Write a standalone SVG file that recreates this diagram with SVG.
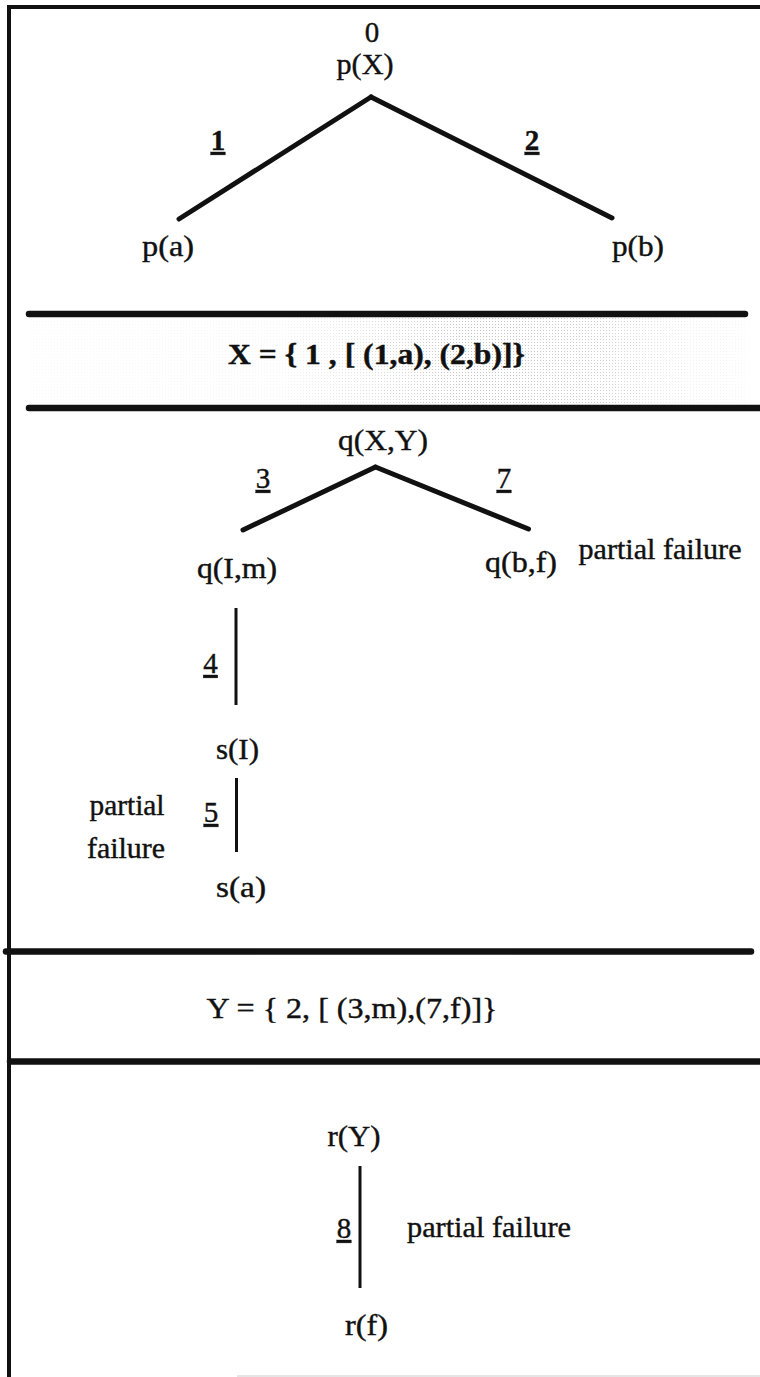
<svg xmlns="http://www.w3.org/2000/svg" width="760" height="1377" viewBox="0 0 760 1377">
  <style>
    text { font-family: "Liberation Serif", "Times New Roman", serif; font-size: 29px; fill: #111; stroke: #111; stroke-width: 0.4; text-anchor: middle; }
    .bold { font-weight: bold; }
    .ul { text-decoration: underline; }
    .frame { stroke: #111; stroke-width: 4; fill: none; }
    .divider { stroke: #111; stroke-width: 6.5; stroke-linecap: round; }
    .branch { stroke: #111; stroke-width: 5; stroke-linecap: round; fill: none; }
    .stem { stroke: #111; stroke-width: 3; fill: none; }
  </style>
  <defs>
    <pattern id="dots" width="3" height="3" patternUnits="userSpaceOnUse">
      <rect x="0" y="0" width="1" height="1" fill="#888"/>
    </pattern>
    <linearGradient id="fade" x1="0" y1="0" x2="1" y2="0">
      <stop offset="0" stop-color="#fff" stop-opacity="0.05"/>
      <stop offset="0.35" stop-color="#fff" stop-opacity="0.08"/>
      <stop offset="0.5" stop-color="#fff" stop-opacity="0.3"/>
      <stop offset="0.62" stop-color="#fff" stop-opacity="0.5"/>
      <stop offset="0.8" stop-color="#fff" stop-opacity="0.4"/>
      <stop offset="0.92" stop-color="#fff" stop-opacity="0.12"/>
      <stop offset="1" stop-color="#fff" stop-opacity="0.08"/>
    </linearGradient>
    <mask id="bandMask">
      <rect x="29" y="318" width="716" height="87" fill="url(#fade)"/>
    </mask>
  </defs>

  <rect width="760" height="1377" fill="#fff"/>

  <g id="frame">
    <line class="frame" x1="9" y1="5" x2="9" y2="1377"/>
    <line class="frame" x1="7" y1="7" x2="760" y2="7"/>
    <line x1="237" y1="1376" x2="760" y2="1376" stroke="#ccc" stroke-width="1"/>
  </g>

  <g id="band-shading">
    <rect x="29" y="318" width="716" height="87" fill="url(#dots)" mask="url(#bandMask)"/>
  </g>

  <g id="dividers">
    <line class="divider" x1="29" y1="314" x2="745" y2="314"/>
    <line class="divider" x1="29" y1="408" x2="760" y2="408"/>
    <line class="divider" x1="6" y1="951.5" x2="751" y2="951.5"/>
    <line class="divider" x1="10" y1="1061.5" x2="760" y2="1061.5"/>
  </g>

  <g id="connectors">
    <line class="branch" x1="371" y1="97" x2="179" y2="219"/>
    <line class="branch" x1="371" y1="97" x2="612" y2="218"/>
    <line class="branch" x1="375.5" y1="467" x2="243" y2="530"/>
    <line class="branch" x1="375.5" y1="467" x2="528.5" y2="529"/>
    <line class="stem" x1="236" y1="608" x2="236" y2="705"/>
    <line class="stem" x1="236.5" y1="778" x2="236.5" y2="852"/>
    <line class="stem" x1="360" y1="1166" x2="360" y2="1288"/>
  </g>

  <g id="edge-labels">
    <text class="bold ul" x="218" y="150">1</text>
    <text class="bold ul" x="532" y="150">2</text>
    <text class="ul" x="263" y="488">3</text>
    <text class="ul" x="504" y="488">7</text>
    <text class="ul" x="210.5" y="673">4</text>
    <text class="ul" x="211" y="822">5</text>
    <text class="ul" x="344" y="1238">8</text>
  </g>

  <g id="node-pX">
    <text x="372" y="42">0</text>
    <text x="365" y="74" textLength="57" lengthAdjust="spacingAndGlyphs">p(X)</text>
  </g>
  <g id="node-pa">
    <text x="168" y="256" textLength="52" lengthAdjust="spacingAndGlyphs">p(a)</text>
  </g>
  <g id="node-pb">
    <text x="638" y="256" textLength="52" lengthAdjust="spacingAndGlyphs">p(b)</text>
  </g>

  <g id="binding-X">
    <text class="bold" x="376.5" y="364" textLength="297" lengthAdjust="spacingAndGlyphs">X = { 1 , [ (1,a), (2,b)]}</text>
  </g>

  <g id="node-qXY">
    <text x="383" y="450" textLength="90" lengthAdjust="spacingAndGlyphs">q(X,Y)</text>
  </g>
  <g id="node-qIm">
    <text x="237" y="578" textLength="80" lengthAdjust="spacingAndGlyphs">q(I,m)</text>
  </g>
  <g id="node-qbf">
    <text x="521" y="572" textLength="72" lengthAdjust="spacingAndGlyphs">q(b,f)</text>
    <text x="660" y="559" textLength="163" lengthAdjust="spacingAndGlyphs">partial failure</text>
  </g>
  <g id="node-sI">
    <text x="237.5" y="759" textLength="43" lengthAdjust="spacingAndGlyphs">s(I)</text>
  </g>
  <g id="note-5">
    <text x="127" y="815" textLength="75" lengthAdjust="spacingAndGlyphs">partial</text>
    <text x="126" y="858" textLength="78" lengthAdjust="spacingAndGlyphs">failure</text>
  </g>
  <g id="node-sa">
    <text x="241" y="897" textLength="50" lengthAdjust="spacingAndGlyphs">s(a)</text>
  </g>

  <g id="binding-Y">
    <text x="352" y="1018" textLength="291" lengthAdjust="spacingAndGlyphs">Y = { 2, [ (3,m),(7,f)]}</text>
  </g>

  <g id="node-rY">
    <text x="354" y="1146" textLength="53" lengthAdjust="spacingAndGlyphs">r(Y)</text>
  </g>
  <g id="note-8">
    <text x="489" y="1237" textLength="164" lengthAdjust="spacingAndGlyphs">partial failure</text>
  </g>
  <g id="node-rf">
    <text x="366.5" y="1335" textLength="43" lengthAdjust="spacingAndGlyphs">r(f)</text>
  </g>
</svg>
